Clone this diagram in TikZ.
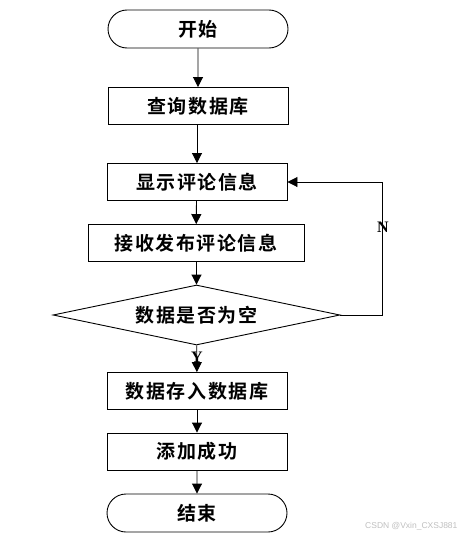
\documentclass[tikz,border=0pt]{standalone}
\usepackage{fontspec}
\setmainfont{Liberation Serif}
\newfontfamily\cjk{Noto Sans CJK SC}[BoldFont={* Bold}, LetterSpace=8]
\newfontfamily\wmfont{Liberation Sans}
\usetikzlibrary{arrows.meta,shapes.misc,shapes.geometric}
\begin{document}
\begin{tikzpicture}[x=1pt,y=-1pt,
  every node/.style={font=\cjk\bfseries\fontsize{19}{22}\selectfont, text=black},
  procbox/.style={draw, line width=0.9pt, rectangle, minimum height=37pt, inner sep=0pt},
  term/.style={draw, line width=0.9pt, rounded rectangle, minimum width=180pt, minimum height=38pt, inner sep=0pt},
  decide/.style={draw, line width=0.9pt, diamond, aspect=4.78, minimum width=287pt, minimum height=60pt, inner sep=0pt},
  flow/.style={draw, line width=0.9pt, -{Triangle[width=10pt,length=10pt]}},
  yn/.style={font=\bfseries\fontsize{16}{18}\selectfont}
]
\useasboundingbox (0,0) rectangle (464,538);
\node[term] (start) at (198,29) {开始};
\node[procbox, minimum width=180pt] (query) at (198,106) {查询数据库};
\node[procbox, minimum width=180pt] (show) at (197,182) {显示评论信息};
\node[procbox, minimum width=216pt] (recv) at (196,243) {接收发布评论信息};
\node[decide] (check) at (196.5,315) {数据是否为空};
\node[procbox, minimum width=180pt] (save) at (197,391) {数据存入数据库};
\node[procbox, minimum width=180pt] (ok) at (197,451.5) {添加成功};
\node[term] (end) at (197,513) {结束};
\coordinate (c1) at (382,315);
\coordinate (c2) at (382,182);
\draw[flow] (start) -- (query.north -| start);
\draw[flow] (query.south -| show) -- (show);
\draw[flow] (show.south -| check) -- (recv);
\draw[flow] (recv.south -| check) -- (check);
\draw[flow] (check) -- (save);
\draw[flow] (save) -- (ok);
\draw[flow] (ok) -- (end);
\draw[flow] (check.east) -- (c1) -- (c2) -- (show.east);
\node[yn] (ylab) at (197,357) {Y};
\node[yn] (nlab) at (383,227) {N};
\node[font=\wmfont\fontsize{8.5}{9}\selectfont, text=black!25, anchor=east] (wm) at (461,526) {CSDN @Vxin\_CXSJ881};
\end{tikzpicture}
\end{document}
